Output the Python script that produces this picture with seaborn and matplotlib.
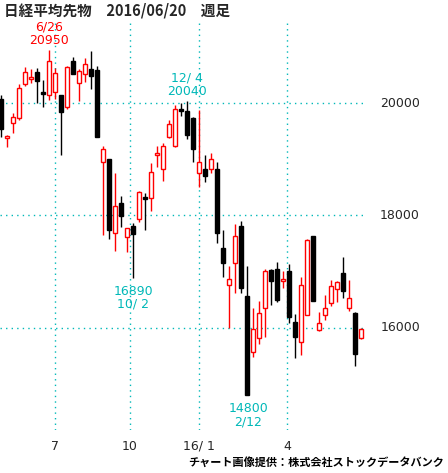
import numpy as np
import pandas as pd
import seaborn as sns
import matplotlib.pyplot as plt

# 週足 OHLC (2015/06 - 2016/06)
opens = [20071, 19380, 19644, 19733, 20338, 20427, 20551, 20196, 20142, 20196,
         20142, 19929, 20747, 20356, 20516, 20604, 20587, 18951, 19004, 17689,
         18222, 17618, 17813, 17938, 18329, 18311, 19075, 18826, 19395, 19235,
         19893, 19858, 19733, 18755, 18826, 18826, 18826, 17422, 16764, 17155,
         17813, 16569, 15573, 15822, 16356, 17031, 17049, 16835, 17013, 16107,
         15751, 16231, 17635, 15964, 16231, 16444, 16693, 16978, 16356, 16267,
         15822]
closes = [19538, 19400, 19751, 20267, 20551, 20444, 20391, 20160, 20747, 20533,
          19840, 20640, 20516, 20569, 20693, 20480, 19395, 19182, 17742, 18169,
          17991, 17778, 17671, 18417, 18293, 18773, 19093, 19235, 19627, 19893,
          19858, 19430, 19182, 18951, 18702, 19004, 17689, 17155, 16871, 17635,
          16711, 14800, 15982, 16267, 17013, 16835, 16498, 16871, 16196, 15840,
          16764, 17564, 16480, 16089, 16356, 16747, 16818, 16658, 16533, 15538,
          15982]
highs = [20142, 19430, 19822, 20338, 20640, 20604, 20622, 20409, 20950, 20622,
         20142, 20658, 20818, 20604, 20800, 20924, 20658, 19236, 19004, 18755,
         18346, 17778, 17866, 18435, 18400, 18933, 19235, 19288, 19698, 19964,
         20000, 20040, 19750, 19876, 19075, 19110, 18951, 17742, 17102, 17849,
         17902, 17102, 16356, 16480, 17049, 17049, 17173, 17013, 17137, 16249,
         16907, 17582, 17635, 16284, 16587, 16853, 16835, 17262, 16853, 16284,
         16000]
lows = [19395, 19218, 19467, 19698, 20302, 20356, 20000, 19929, 20053, 20071,
        19075, 19893, 20516, 20036, 20373, 20249, 19395, 17653, 17582, 17369,
        17795, 17351, 16890, 17884, 17742, 18080, 18862, 18613, 19378, 19218,
        19770, 19360, 18951, 18507, 18596, 18755, 17511, 16906, 16000, 16622,
        16622, 14800, 15484, 15715, 15840, 16409, 16462, 16711, 16089, 15467,
        15520, 16231, 16480, 15946, 16142, 16391, 16462, 16533, 16302, 15324,
        15804]

month_pos = [9, 21.5, 33, 47.7]
month_labels = ['7', '10', '16/ 1', '4']
price_ticks = [16000, 18000, 20000]

df = pd.DataFrame({'open': opens, 'close': closes, 'high': highs, 'low': lows})
df['i'] = np.arange(len(df))
df['up'] = df['close'] >= df['open']

sns.set_style('white')
plt.rcParams['font.family'] = ['Noto Sans CJK JP', 'DejaVu Sans']

fig = plt.figure(figsize=(4.48, 4.73), dpi=100)
ax = fig.add_axes([0, 43 / 473, 365 / 448, 410 / 473])

ax.set_xlim(-0.17, 60.67)
ax.set_ylim(14186, 21476)

cyan = '#00b8b8'
for p in price_ticks:
    ax.axhline(p, color=cyan, ls=(0, (1, 3)), lw=1, zorder=0)
for p in month_pos:
    ax.axvline(p, color=cyan, ls=(0, (1, 3)), lw=1, zorder=0)

for _, r in df.iterrows():
    col = 'red' if r['up'] else 'black'
    ax.vlines(r['i'], r['low'], r['high'], color=col, lw=1, zorder=1)
    lo, hi = sorted([r['open'], r['close']])
    h = max(hi - lo, 30)
    ax.bar(r['i'], h, bottom=lo, width=0.62,
           color='white' if r['up'] else 'black', edgecolor=col, lw=1, zorder=2)

for s in ax.spines.values():
    s.set_visible(False)
ax.set_xticks([])
ax.set_yticks([])

mono = 'DejaVu Sans'
def label(i, y1, y2, t1, t2, c):
    ax.text(i, y1, t1, color=c, ha='center', va='center', fontsize=9, family=mono)
    ax.text(i, y2, t2, color=c, ha='center', va='center', fontsize=9, family=mono)

label(8, 21350, 21120, '6/26', '20950', 'red')
label(31, 20440, 20210, '12/ 4', '20040', cyan)
label(22, 16650, 16420, '16890', '10/ 2', cyan)
label(41.2, 14560, 14330, '14800', '2/12', cyan)

for p in price_ticks:
    y = (p - 14186) / (21476 - 14186) * (410 / 473) + 43 / 473
    fig.text(420 / 448, y, f'{p}', ha='right', va='center', fontsize=9, family=mono)
for p, t in zip(month_pos, month_labels):
    fig.text((p * 6 + 1) / 448, 1 - 446 / 473, t, ha='center', va='center', fontsize=9, family=mono)

fig.text(4 / 448, 1 - 10 / 473, '日経平均先物\u30002016/06/20\u3000週足', ha='left', va='center',
         fontsize=10.5, fontweight='bold')
fig.text(444 / 448, 1 - 462 / 473, 'チャート画像提供：株式会社ストックデータバンク',
         ha='right', va='center', fontsize=8, fontweight='bold', color='black')

fig.savefig('out.png', dpi=100)
